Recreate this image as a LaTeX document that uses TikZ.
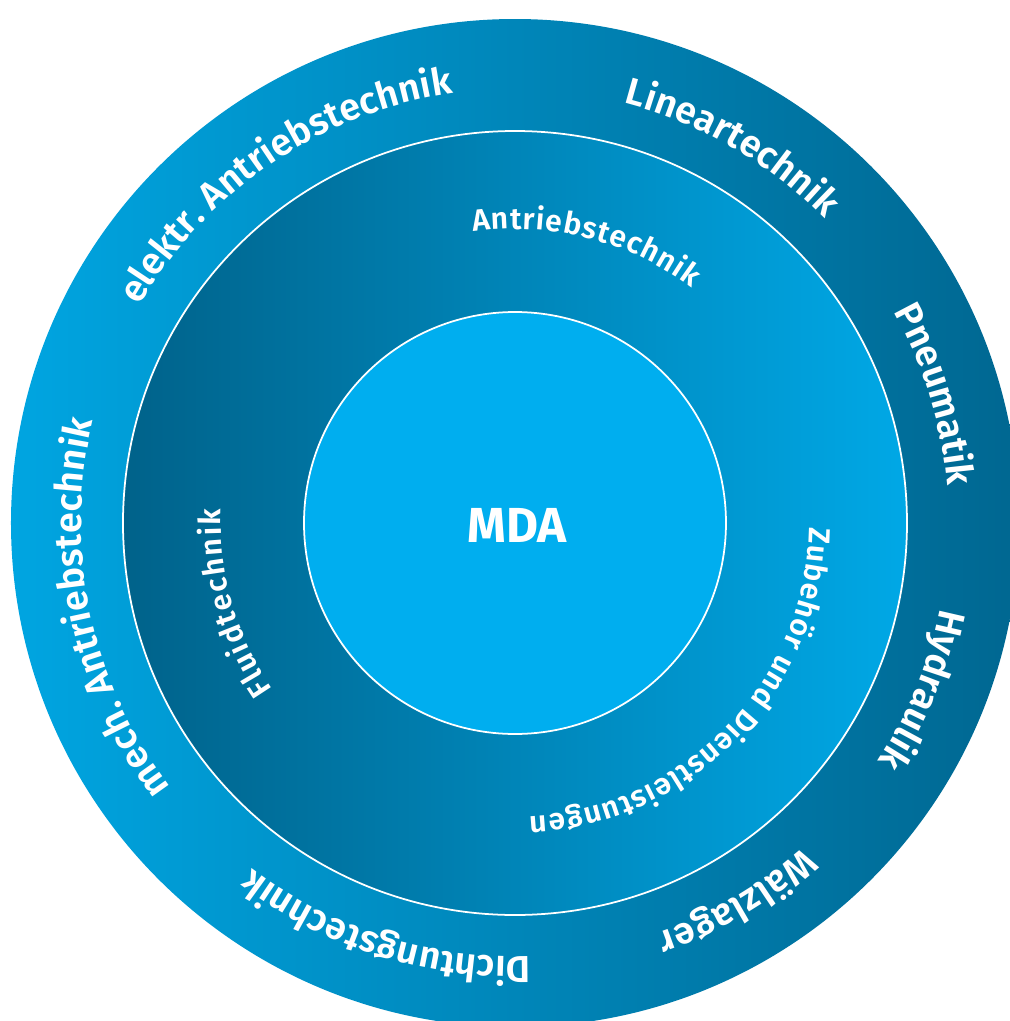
\documentclass[tikz,border=0pt]{standalone}
\usepackage{fontspec}
\setmainfont{Fira Sans}[UprightFont=* SemiBold, BoldFont=* Bold]
\usepackage{tikz}
\usetikzlibrary{decorations.text}
\definecolor{ringlight}{RGB}{0,165,225}
\definecolor{ringdark}{RGB}{0,103,145}
\definecolor{coredark}{RGB}{0,98,138}
\definecolor{corelight}{RGB}{0,168,230}
\definecolor{mdablue}{RGB}{0,174,239}
\newcommand{\outerfont}{\fontsize{10.7}{12}\selectfont}
\newcommand{\ringfont}{\fontsize{8.6}{10}\selectfont}

\begin{document}
\begin{tikzpicture}[
    outertext/.style={decorate, decoration={text along path, text align={fit to path, right indent=1pt}, text color=white, text={|\outerfont|#1}}},
    ringtext/.style={decorate, decoration={text along path, text align={fit to path, right indent=1pt}, text color=white, text={|\ringfont|#1}}}]
    \useasboundingbox (-5.15,-4.98) rectangle (4.95,5.23);

    % Outer ring
    \shade[left color=ringlight, right color=ringdark] (0,0) circle (5.04);
    % Middle ring
    \shade[left color=coredark, right color=corelight, draw=white, line width=0.5pt] (0,0) circle (3.92);
    % Core
    \draw[fill=mdablue, draw=white, line width=0.5pt] (0,0) circle (2.11);
    \node[text=white, font=\bfseries\fontsize{14}{16}\selectfont] (mda) at (0.02,-0.02) {MDA};

    % Outer labels
    \path[outertext={elektr. Antriebstechnik}] (150:4.34) arc[start angle=150, end angle=97.8, radius=4.34];
    \path[outertext={Lineartechnik}] (75.5:4.34) arc[start angle=75.5, end angle=44.5, radius=4.34];
    \path[outertext={Pneumatik}] (29.2:4.34) arc[start angle=29.2, end angle=5.1, radius=4.34];
    \path[outertext={Hydraulik}] (-11.3:4.34) arc[start angle=-11.3, end angle=-33.2, radius=4.34];
    \path[outertext={Wälzlager}] (-48.3:4.34) arc[start angle=-48.3, end angle=-71.4, radius=4.34];
    \path[outertext={Dichtungstechnik}] (-87.9:4.34) arc[start angle=-87.9, end angle=-127.6, radius=4.34];
    \path[outertext={mech. Antriebstechnik}] (217.5:4.34) arc[start angle=217.5, end angle=165.8, radius=4.34];

    % Middle labels
    \path[ringtext={Antriebstechnik}] (98.2:2.94) arc[start angle=98.2, end angle=52.3, radius=2.94];
    \path[ringtext={Zubehör und Dienstleistungen}] (-0.8:2.94) arc[start angle=-0.8, end angle=-87.9, radius=2.94];
    \path[ringtext={Fluidtechnik}] (214.6:2.94) arc[start angle=214.6, end angle=176.6, radius=2.94];
\end{tikzpicture}
\end{document}
